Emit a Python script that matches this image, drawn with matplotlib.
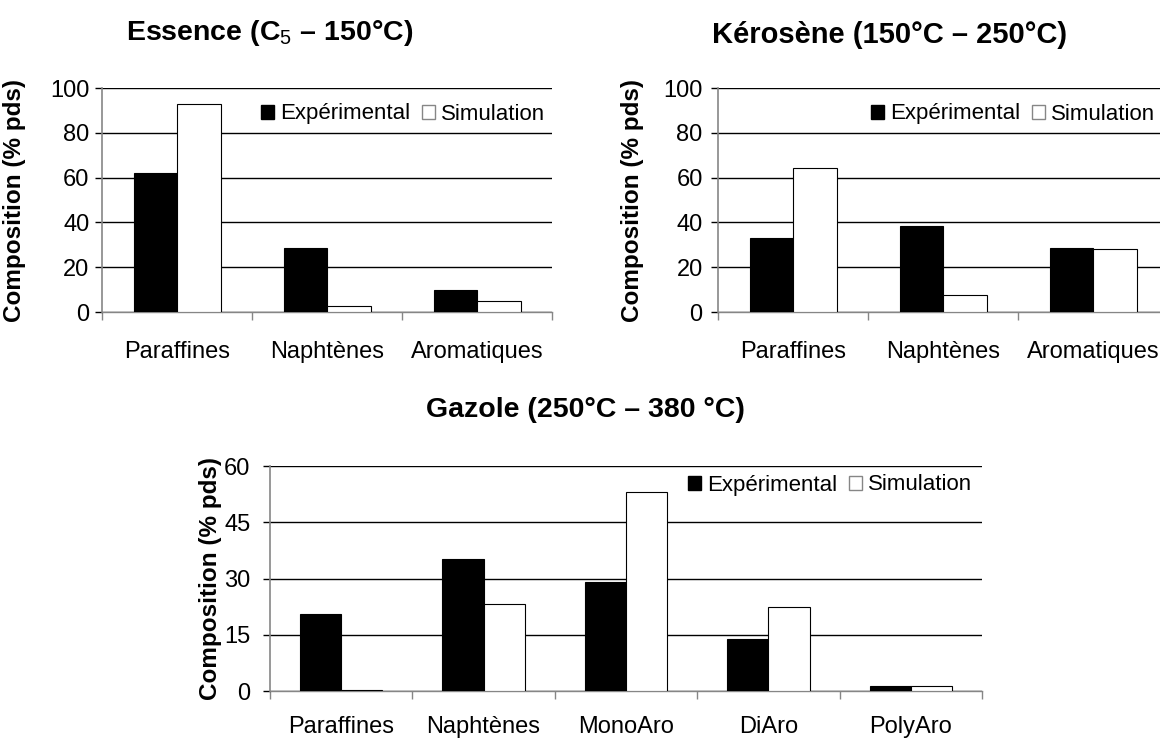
import matplotlib
matplotlib.use("Agg")
import matplotlib.pyplot as plt
from matplotlib.patches import Patch
import numpy as np

plt.rcParams['font.family'] = ['Liberation Sans', 'DejaVu Sans']
plt.rcParams['mathtext.fontset'] = 'custom'
plt.rcParams['mathtext.rm'] = 'Liberation Sans'
plt.rcParams['mathtext.bf'] = 'Liberation Sans:bold'

# ---- data ----
cats_essence = ["Paraffines", "Naphtènes", "Aromatiques"]
exp_essence = [62.0, 28.6, 9.7]
sim_essence = [92.9, 2.5, 5.1]

cats_kerosene = ["Paraffines", "Naphtènes", "Aromatiques"]
exp_kerosene = [33.0, 38.2, 28.7]
sim_kerosene = [64.1, 7.4, 28.3]

cats_gazole = ["Paraffines", "Naphtènes", "MonoAro", "DiAro", "PolyAro"]
exp_gazole = [20.6, 35.3, 29.1, 13.9, 1.4]
sim_gazole = [0.35, 23.3, 53.0, 22.3, 1.4]

W, H = 1160, 738
fig = plt.figure(figsize=(W / 100, H / 100), dpi=100)

FS = 17
LFS = 16
GRAY = '#868686'


def fpos(x0, y0, x1, y1):
    return [x0 / W, 1 - y1 / H, (x1 - x0) / W, (y1 - y0) / H]


def draw(rect, cats, exp, sim, ymax, ystep, leg_xy, ylab_x, xpad, ypad):
    ax = fig.add_axes(fpos(*rect))
    n = len(cats)
    x = np.arange(n) + 0.5
    bw = 0.29
    ax.bar(x - bw / 2, exp, width=bw, color='black', edgecolor='black', lw=0.8, zorder=3)
    ax.bar(x + bw / 2, sim, width=bw, color='white', edgecolor='black', lw=0.8, zorder=3)
    ax.set_xlim(0, n)
    ax.set_ylim(0, ymax)
    yt = np.arange(0, ymax + 0.1, ystep)
    ax.set_yticks(yt)
    ax.set_yticklabels([f"{int(v)}" for v in yt], fontsize=FS)
    ax.yaxis.grid(True, color='black', lw=1.0, zorder=0)
    ax.set_axisbelow(True)
    ax.set_xticks(np.arange(n + 1))
    ax.set_xticklabels([])
    ax.set_xticks(x, minor=True)
    ax.set_xticklabels(cats, minor=True, fontsize=FS)
    ax.tick_params(axis='x', which='major', direction='out', length=6, color=GRAY, width=1)
    ax.tick_params(axis='x', which='minor', length=0, pad=xpad)
    ax.tick_params(axis='y', direction='out', length=5, color='black', width=1, pad=ypad)
    for s in ['top', 'right']:
        ax.spines[s].set_visible(False)
    ax.spines['left'].set_color(GRAY)
    ax.spines['bottom'].set_color(GRAY)
    ax.spines['left'].set_linewidth(1.2)
    ax.spines['bottom'].set_linewidth(1.0)
    ax.set_ylabel("Composition (% pds)", fontsize=17.5, fontweight='bold')
    ax.yaxis.set_label_coords((ylab_x - rect[0]) / (rect[2] - rect[0]), 0.5)
    handles = [Patch(facecolor='black', edgecolor='black'),
               Patch(facecolor='white', edgecolor=GRAY)]
    fig.legend(handles, ["Expérimental", "Simulation"], ncol=2, frameon=False,
               loc='center right', bbox_to_anchor=(leg_xy[0] / W, 1 - leg_xy[1] / H),
               fontsize=LFS, handlelength=0.6, handleheight=0.6, handletextpad=0.25,
               columnspacing=0.55, borderpad=0, borderaxespad=0)
    return ax


draw((102, 88, 552, 312), cats_essence, exp_essence, sim_essence, 100, 20,
     (545, 114), 26, 21, 4)
draw((718, 88, 1168, 312), cats_kerosene, exp_kerosene, sim_kerosene, 100, 20,
     (1155, 114), 644, 21, 6)
draw((270, 466, 982, 691), cats_gazole, exp_gazole, sim_gazole, 60, 15,
     (972, 485), 222, 18, 9)

fig.text(270 / W, 1 - 33 / H, r"Essence (C$_\mathrm{5}$ – 150°C)", fontsize=20.5,
         fontweight='bold', ha='center', va='center')
fig.text(890 / W, 1 - 35 / H, "Kérosène (150°C – 250°C)", fontsize=21,
         fontweight='bold', ha='center', va='center')
fig.text(585 / W, 1 - 410 / H, "Gazole (250°C – 380 °C)", fontsize=20.5,
         fontweight='bold', ha='center', va='center')

fig.savefig("out.png", dpi=100)
